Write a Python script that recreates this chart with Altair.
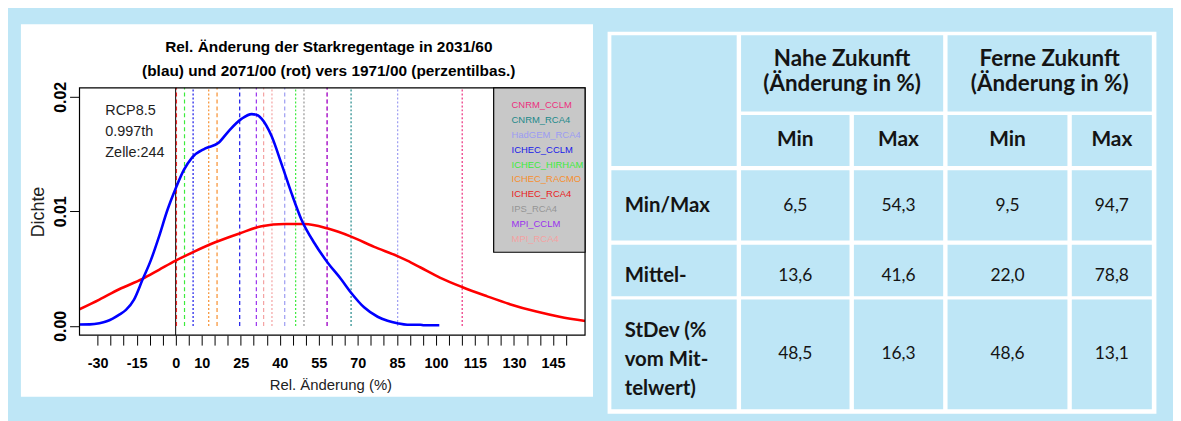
import altair as alt
import pandas as pd

SANS = "'Liberation Sans', Arial, Helvetica, sans-serif"
TFONT = "Lato, 'Open Sans', 'DejaVu Sans', sans-serif"
BG = "#BEE6F6"
INK = "#141414"

# ---------------- chart data ----------------
blue_x = [-37.0, -33.0, -29.3, -26.5, -24.2, -21.5, -19.1, -16.0, -12.8, -9.6,
          -6.4, -3.2, 0.0, 3.1, 6.3, 11.4, 16.5, 20.3, 25.4, 29.2,
          31.5, 33.0, 36.8, 40.6, 44.5, 48.3, 53.4, 58.5, 63.5, 67.4,
          72.5, 77.6, 81.4, 85.2, 89.0, 94.0, 95.4, 101.3]
blue_y = [0.00012, 0.00013, 0.00023, 0.0004, 0.00064, 0.0010, 0.0014, 0.0023, 0.0040, 0.0057,
          0.0078, 0.0101, 0.0120, 0.0136, 0.0147, 0.0155, 0.0160, 0.0170, 0.0181, 0.0185,
          0.0184, 0.0181, 0.0166, 0.0142, 0.0116, 0.0093, 0.0072, 0.0055, 0.0041, 0.0029,
          0.0016, 0.0008, 0.00045, 0.00023, 0.0001, 0.0001, 0.00005, 0.00005]

red_x = [-37.0, -29.3, -21.7, -12.8, -6.4, 0.0, 6.3, 15.2, 24.8, 33.0,
         41.9, 49.6, 58.5, 67.4, 76.3, 85.2, 89.0, 94.1, 101.7, 110.0,
         119.5, 128.4, 138.6, 147.5, 157.4]
red_y = [0.00145, 0.0023, 0.0032, 0.0041, 0.0049, 0.0057, 0.0064, 0.0073, 0.0081, 0.0087,
         0.0089, 0.0089, 0.0085, 0.0078, 0.0069, 0.0061, 0.0057, 0.0051, 0.0042, 0.0034,
         0.0026, 0.0019, 0.00125, 0.0008, 0.00043]

models = ["CNRM_CCLM", "CNRM_RCA4", "HadGEM_RCA4", "ICHEC_CCLM", "ICHEC_HIRHAM",
          "ICHEC_RACMO", "ICHEC_RCA4", "IPS_RCA4", "MPI_CCLM", "MPI_RCA4"]
model_colors = ["#EC2F7E", "#21898A", "#9C9CF2", "#1818E8", "#3CEB3C",
                "#F78F2E", "#E82222", "#959595", "#9A30EE", "#F4A2A2"]

vline_model = ["ICHEC_HIRHAM", "ICHEC_CCLM", "ICHEC_RACMO", "ICHEC_RACMO", "ICHEC_CCLM",
               "MPI_CCLM", "MPI_RCA4", "MPI_RCA4", "HadGEM_RCA4", "ICHEC_HIRHAM",
               "IPS_RCA4", "CNRM_CCLM", "MPI_CCLM", "CNRM_RCA4", "HadGEM_RCA4",
               "CNRM_CCLM", "ICHEC_RCA4"]
vline_value = [3.4, 6.7, 12.7, 15.9, 24.6,
               31.0, 33.8, 37.0, 41.9, 46.1,
               49.3, 58.2, 58.2, 67.4, 85.3,
               110.1, 0.3]
vline_period = ["nah", "fern", "fern", "nah", "nah",
                "nah", "nah", "fern", "nah", "fern",
                "fern", "nah", "nah", "fern", "fern",
                "fern", "nah"]

x_label_values = [-30, -15, 0, 10, 25, 40, 55, 70, 85, 100, 115, 130, 145]
x_tick_values = list(range(-30, 151, 5))
y_tick_values = [0.0, 0.01, 0.02]

title_lines = ["Rel. Änderung der Starkregentage in 2031/60",
               "(blau) und 2071/00 (rot) vers 1971/00 (perzentilbas.)"]
info_lines = ["RCP8.5", "0.997th", "Zelle:244"]
x_title = "Rel. Änderung (%)"
y_title = "Dichte"

# ---------------- table data ----------------
period_headers = ["Nahe Zukunft", "Ferne Zukunft"]
period_sub = "(Änderung in %)"
stat_headers = ["Min", "Max", "Min", "Max"]
row_labels = [["Min/Max"], ["Mittel-"], ["StDev (%", "vom Mit-", "telwert)"]]
near_min = [6.5, 13.6, 48.5]
near_max = [54.3, 41.6, 16.3]
far_min = [9.5, 22.0, 48.6]
far_max = [94.7, 78.8, 13.1]

# ---------------- layout (page pixels) ----------------
PL, PT, PW, PH = 80, 87, 509, 249
X_DOM = [-36.95, 157.3]
Y_DOM = [-0.00081, 0.02079]

col_left = [615.5, 746.1, 859.7, 954.0, 1079.1]
col_right = [741.7, 855.3, 949.6, 1074.7, 1159.7]
row_top = [34.0, 114.3, 170.0, 245.0, 300.0]
row_bottom = [110.7, 165.7, 240.7, 296.7, 410.7]
row_text_y = [205.7, 276.7, 355.0]
label_line_y = [332.3, 360.7, 390.0]

# ---------------- plot group (data scales) ----------------
xs = alt.Scale(domain=X_DOM, nice=False, zero=False)
ys = alt.Scale(domain=Y_DOM, nice=False, zero=False)

label_set = ",".join(str(v) for v in x_label_values)
x_axis = alt.Axis(
    values=x_tick_values,
    labelExpr=f"indexof([{label_set}], datum.value) >= 0 ? '' + datum.value : ''",
    tickSize=10, tickColor="black", tickWidth=1, domain=False, grid=False,
    labelFont=SANS, labelFontSize=14.5, labelFontWeight="bold", labelColor="black",
    labelPadding=12, labelOverlap=False, labelFlush=False,
    title=x_title, titleFont=SANS, titleFontSize=15, titleFontWeight="normal",
    titleColor="#222222", titleX=252.6, titleY=50, titleBaseline="middle",
    titleAlign="center", zindex=1)
y_axis = alt.Axis(
    values=y_tick_values, format=".2f",
    tickSize=10, tickColor="black", tickWidth=1, domain=False, grid=False,
    labelFont=SANS, labelFontSize=16, labelFontWeight="bold", labelColor="black",
    labelAngle=270, labelAlign="center", labelBaseline="alphabetic", labelPadding=4,
    labelOverlap=False, labelFlush=False,
    title=y_title, titleFont=SANS, titleFontSize=18, titleFontWeight="normal",
    titleColor="#222222", titleAngle=270, titleX=-41, titleY=PH / 2,
    titleBaseline="middle", titleAlign="center", zindex=1)


def PX(field):
    return alt.X(field, type="quantitative", scale=xs, axis=x_axis)


def PY(field):
    return alt.Y(field, type="quantitative", scale=ys, axis=y_axis)


vl_df = pd.DataFrame({"model": vline_model, "value": vline_value, "period": vline_period})
vl_df["y0"] = 0.0
vl_df["y1"] = Y_DOM[1]

zero_line = alt.Chart(pd.DataFrame({"x": [0.0]})).mark_rule(
    color="black", strokeWidth=1).encode(x=PX("x"))

vlines = alt.Chart(vl_df).mark_rule(strokeWidth=1.2).encode(
    x=PX("value"),
    y=PY("y0"),
    y2="y1",
    color=alt.Color("model:N", scale=alt.Scale(domain=models, range=model_colors), legend=None),
    strokeDash=alt.StrokeDash("period:N", scale=alt.Scale(domain=["nah", "fern"],
                                                         range=[[4, 3], [2, 2]]), legend=None),
)

red = alt.Chart(pd.DataFrame({"x": red_x, "y": red_y})).mark_line(
    color="#FF0000", strokeWidth=2.6, interpolate="monotone", clip=True).encode(
    x=PX("x"), y=PY("y"))

blue = alt.Chart(pd.DataFrame({"x": blue_x, "y": blue_y})).mark_line(
    color="#0000FF", strokeWidth=2.6, interpolate="monotone", clip=True).encode(
    x=PX("x"), y=PY("y"))

frame = alt.Chart(pd.DataFrame({"x0": [X_DOM[0]], "x1": [X_DOM[1]],
                                "y0": [Y_DOM[0]], "y1": [Y_DOM[1]]})).mark_rect(
    filled=False, stroke="black", strokeWidth=1.2).encode(
    x=PX("x0"), x2="x1", y=PY("y0"), y2="y1")

plot_group = alt.layer(zero_line, vlines, red, blue, frame)

# ---------------- page-pixel groups ----------------
sx = alt.Scale(domain=[PL, PL + PW], nice=False, zero=False)
sy = alt.Scale(domain=[PT, PT + PH], nice=False, zero=False, reverse=True)


def rects(df, **mark):
    return alt.Chart(df).mark_rect(**mark).encode(
        x=alt.X("x0:Q", scale=sx, axis=None), x2="x1",
        y=alt.Y("y0:Q", scale=sy, axis=None), y2="y1")


def texts(df, **mark):
    enc = dict(x=alt.X("x:Q", scale=sx, axis=None),
               y=alt.Y("y:Q", scale=sy, axis=None),
               text="text:N")
    if "model" in df.columns:
        enc["color"] = alt.Color("model:N", scale=alt.Scale(domain=models, range=model_colors),
                                 legend=None)
    return alt.Chart(df).mark_text(**mark).encode(**enc)


white_panels = rects(pd.DataFrame({"x0": [21, 611.7], "x1": [597, 1164.3],
                                   "y0": [23, 30.5], "y1": [398, 415]}),
                     fill="white")

cells = []


def add_cell(c0, c1, r0, r1):
    cells.append({"x0": col_left[c0], "x1": col_right[c1],
                  "y0": row_top[r0], "y1": row_bottom[r1]})


add_cell(0, 0, 0, 1)
add_cell(1, 2, 0, 0)
add_cell(3, 4, 0, 0)
for c in range(1, 5):
    add_cell(c, c, 1, 1)
for r in range(2, 5):
    for c in range(5):
        add_cell(c, c, r, r)
cell_layer = rects(pd.DataFrame(cells), fill=BG)

bg_group = alt.layer(white_panels, cell_layer)

legend_box = rects(pd.DataFrame({"x0": [497], "x1": [589], "y0": [87], "y1": [252.5]}),
                   fill="#C8C8C8", stroke="black", strokeWidth=1.2)
legend_text = texts(pd.DataFrame({"x": [515] * len(models),
                                  "y": [104 + 15.05 * i for i in range(len(models))],
                                  "text": models, "model": models}),
                    align="left", baseline="middle", font=SANS, fontSize=9.5)

info_text = texts(pd.DataFrame({"x": [106] * 3, "y": [110.7, 131.7, 152.7], "text": info_lines}),
                  align="left", baseline="middle", font=SANS, fontSize=14.5, color="#1e1e1e")

title_text = texts(pd.DataFrame({"x": [331, 331], "y": [45.5, 70], "text": title_lines}),
                   align="center", baseline="middle", font=SANS, fontSize=15.5,
                   fontWeight="bold", color="black")

hdr_rows = []
for i, name in enumerate(period_headers):
    cx = (col_left[1 + 2 * i] + col_right[2 + 2 * i]) / 2
    hdr_rows.append({"x": cx, "y": 58.3, "text": name})
    hdr_rows.append({"x": cx, "y": 83.3, "text": period_sub})
hdr_text = texts(pd.DataFrame(hdr_rows), align="center", baseline="middle", font=TFONT,
                 fontSize=22.5, fontWeight="bold", color=INK)

sub_rows = []
for c, name in enumerate(stat_headers):
    cx = (col_left[c + 1] + col_right[c + 1]) / 2
    sub_rows.append({"x": cx, "y": (row_top[1] + row_bottom[1]) / 2, "text": name})
sub_text = texts(pd.DataFrame(sub_rows), align="center", baseline="middle", font=TFONT,
                 fontSize=21, fontWeight="bold", color=INK)

lab_rows = []
for r, lines in enumerate(row_labels):
    ys_ = [row_text_y[r]] if len(lines) == 1 else label_line_y
    for line, yy in zip(lines, ys_):
        lab_rows.append({"x": col_left[0] + 13.4, "y": yy, "text": line})
lab_text = texts(pd.DataFrame(lab_rows), align="left", baseline="middle", font=TFONT,
                 fontSize=20.5, fontWeight="bold", color=INK)

num_rows = []
for c, series in enumerate([near_min, near_max, far_min, far_max]):
    cx = (col_left[c + 1] + col_right[c + 1]) / 2
    for r, v in enumerate(series):
        num_rows.append({"x": cx, "y": row_text_y[r], "text": f"{v:.1f}".replace(".", ",")})
num_text = texts(pd.DataFrame(num_rows), align="center", baseline="middle", font=TFONT,
                 fontSize=17.5, color=INK)

fg_group = alt.layer(legend_box, legend_text, info_text, title_text, hdr_text, sub_text,
                     lab_text, num_text)

chart = alt.layer(bg_group, plot_group, fg_group).resolve_scale(
    x="independent", y="independent"
).properties(
    width=PW, height=PH,
    padding={"left": PL - 8, "top": PT - 8, "right": 1181 - PL - PW, "bottom": 421 - PT - PH},
    autosize=alt.AutoSizeParams(type="none"),
    background=BG,
).configure_view(stroke=None)

chart.save("out.html", embed_options={"renderer": "svg", "actions": False})
